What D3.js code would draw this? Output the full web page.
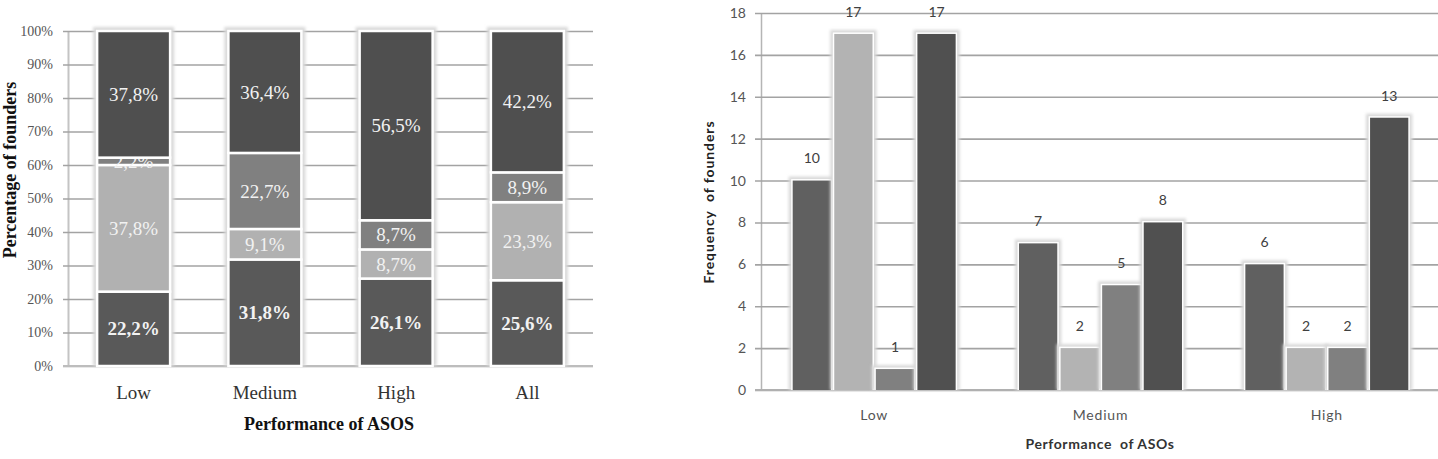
<!DOCTYPE html>
<html>
<head>
<meta charset="utf-8">
<script src="https://d3js.org/d3.v7.min.js"></script>
<style>
  body { margin: 0; background: #fff; }
  svg { display: block; }
</style>
</head>
<body>
<svg id="chart" width="1438" height="459"></svg>
<script>
// left chart: share of founders (%) per performance level, stacked bottom to top
var pctCats = ["Low", "Medium", "High", "All"];
var pctS1 = [22.2, 31.8, 26.1, 25.6];
var pctS2 = [37.8, 9.1, 8.7, 23.3];
var pctS3 = [2.2, 22.7, 8.7, 8.9];
var pctS4 = [37.8, 36.4, 56.5, 42.2];
var pctTicks = [0, 10, 20, 30, 40, 50, 60, 70, 80, 90, 100];

// right chart: frequency of founders
var freqCats = ["Low", "Medium", "High"];
var freqS1 = [10, 7, 6];
var freqS2 = [17, 2, 2];
var freqS3 = [1, 5, 2];
var freqS4 = [17, 8, 13];
var freqTicks = [0, 2, 4, 6, 8, 10, 12, 14, 16, 18];

var svg = d3.select("#chart");
var defs = svg.append("defs");
defs.append("filter").attr("id", "blur")
    .attr("x", "-20%").attr("y", "-20%").attr("width", "140%").attr("height", "140%")
    .append("feGaussianBlur").attr("stdDeviation", 1.6);

var grid = "#a3a3a3";

// bar with white rim and soft grey halo, like the office chart
function bar(g, x, y, w, h, fill, rim) {
    g.append("rect").attr("x", x - 4).attr("y", y - 4).attr("width", w + 8).attr("height", h + 4)
        .attr("fill", "#d9d9d9").attr("filter", "url(#blur)");
    g.append("rect").attr("x", x - rim).attr("y", y - rim).attr("width", w + 2 * rim).attr("height", h + rim)
        .attr("fill", "#fff");
    g.append("rect").attr("x", x).attr("y", y).attr("width", w).attr("height", h).attr("fill", fill);
}

// ---------- left chart ----------
var L = svg.append("g");
var x = d3.scaleBand().domain(pctCats).range([68, 593]).paddingInner(0.444).paddingOuter(0.222);
var y = d3.scaleLinear().domain([0, 100]).range([366, 31]);

L.append("g")
    .attr("transform", "translate(68,0)")
    .call(d3.axisLeft(y).tickValues(pctTicks).tickFormat(function(d) { return d + "%"; })
        .tickSize(-525).tickSizeOuter(0).tickPadding(15))
    .call(function(g) {
        g.select(".domain").attr("stroke", "#c4c4c4").attr("stroke-width", 2);
        g.selectAll(".tick line").attr("stroke", grid).attr("stroke-width", 1.6).attr("x1", -5);
        g.selectAll(".tick text").attr("fill", "#555")
            .style("font-family", "Liberation Serif").style("font-size", "14px");
    });
L.append("line").attr("x1", 63).attr("x2", 593).attr("y1", y(0)).attr("y2", y(0))
    .attr("stroke", "#bdbdbd").attr("stroke-width", 2);

var pctSeries = [pctS1, pctS2, pctS3, pctS4];
var pctFill = ["#595959", "#b1b1b1", "#808080", "#4f4f4f"];
pctCats.forEach(function(c, i) {
    var bx = x(c), bw = x.bandwidth();
    var base = 0;
    var col = L.append("g");
    bar(col, bx, y(100), bw, y(0) - y(100), "#fff", 0);
    pctSeries.forEach(function(s, k) {
        var v = s[i];
        var y0 = y(base), y1 = y(base + v);
        col.append("rect").attr("x", bx).attr("y", y1).attr("width", bw).attr("height", y0 - y1)
            .attr("fill", pctFill[k]).attr("stroke", "#fff").attr("stroke-width", 2.5);
        col.append("text").attr("x", bx + bw / 2).attr("y", (y0 + y1) / 2).attr("dy", "0.35em")
            .attr("text-anchor", "middle").attr("fill", "#f2f2f2")
            .style("font-family", "Liberation Serif").style("font-size", "19px")
            .style("font-weight", k === 0 ? "bold" : "normal")
            .text(v.toFixed(1).replace(".", ",") + "%");
        base += v;
    });
    L.append("text").attr("x", bx + bw / 2).attr("y", 399).attr("text-anchor", "middle")
        .attr("fill", "#333").style("font-family", "Liberation Serif").style("font-size", "19px")
        .text(c);
});
L.append("text").attr("x", 329).attr("y", 430).attr("text-anchor", "middle").attr("fill", "#111")
    .style("font-family", "Liberation Serif").style("font-size", "18px").style("font-weight", "bold")
    .text("Performance of ASOS");
L.append("text").attr("transform", "translate(16,170) rotate(-90)").attr("text-anchor", "middle")
    .attr("fill", "#111").style("font-family", "Liberation Serif").style("font-size", "18px")
    .style("font-weight", "bold").text("Percentage of founders");

// ---------- right chart ----------
var R = svg.append("g");
var x0 = d3.scaleBand().domain(freqCats).range([761, 1440]).paddingInner(0.28).paddingOuter(0.14);
var x1 = d3.scaleBand().domain(d3.range(4)).range([0, x0.bandwidth()]).paddingInner(0.08);
var y2 = d3.scaleLinear().domain([0, 18]).range([390, 13]);

R.append("g")
    .attr("transform", "translate(761,0)")
    .call(d3.axisLeft(y2).tickValues(freqTicks).tickSize(-677).tickSizeOuter(0).tickPadding(15))
    .call(function(g) {
        g.select(".domain").attr("stroke", "#b5b5b5").attr("stroke-width", 1.5);
        g.selectAll(".tick line").attr("stroke", grid).attr("stroke-width", 1.6).attr("x1", -6);
        g.selectAll(".tick text").attr("fill", "#555")
            .style("font-family", "Lato").style("font-size", "14px");
    });
R.append("line").attr("x1", 755).attr("x2", 1438).attr("y1", y2(0)).attr("y2", y2(0))
    .attr("stroke", "#b0b0b0").attr("stroke-width", 2);

var freqSeries = [freqS1, freqS2, freqS3, freqS4];
var freqFill = ["#606060", "#b3b3b3", "#808080", "#505050"];
freqCats.forEach(function(c, i) {
    freqSeries.forEach(function(s, k) {
        var v = s[i];
        var bx = x0(c) + x1(k), bw = x1.bandwidth();
        bar(R, bx, y2(v), bw, y2(0) - y2(v), freqFill[k], 1.5);
        R.append("text").attr("x", bx + bw / 2).attr("y", y2(v) - 22).attr("dy", "0.35em")
            .attr("text-anchor", "middle").attr("fill", "#404040")
            .style("font-family", "Lato").style("font-size", "14px").text(v);
    });
    R.append("text").attr("x", x0(c) + x0.bandwidth() / 2).attr("y", 420).attr("text-anchor", "middle")
        .attr("fill", "#555").style("font-family", "Lato").style("font-size", "14px")
        .style("letter-spacing", "0.8px").text(c);
});
R.append("text").attr("x", 1100).attr("y", 449).attr("text-anchor", "middle").attr("fill", "#333")
    .style("font-family", "Lato").style("font-size", "14px").style("font-weight", "bold")
    .style("letter-spacing", "0.6px").style("white-space", "pre").text("Performance  of ASOs");
R.append("text").attr("transform", "translate(714,202) rotate(-90)").attr("text-anchor", "middle")
    .attr("fill", "#222").style("font-family", "Lato").style("font-size", "14px")
    .style("font-weight", "bold").style("letter-spacing", "0.9px").style("white-space", "pre")
    .text("Frequency  of founders");
</script>
</body>
</html>
